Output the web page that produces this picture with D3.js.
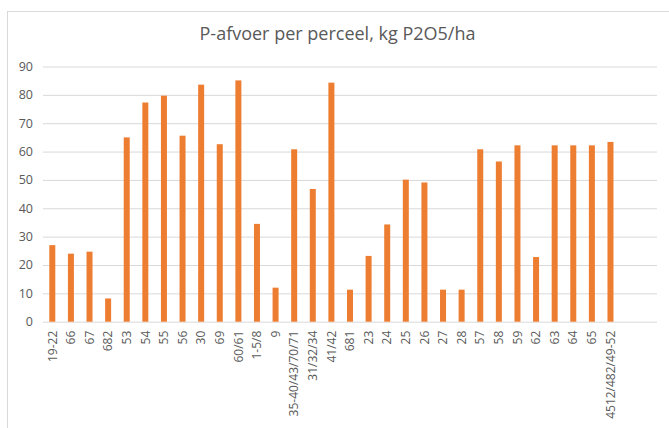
<!DOCTYPE html>
<html>
<head>
<meta charset="utf-8">
<script src="https://cdn.jsdelivr.net/npm/d3@7"></script>
<style>
  body { margin: 0; background: #fff; }
  text { font-family: "Open Sans", "Noto Sans", sans-serif; fill: #595959; }
</style>
</head>
<body>
<div id="chart"></div>
<script>
// percelen (x categories) and P-afvoer values
var categories = ["19-22", "66", "67", "682", "53", "54", "55", "56", "30", "69",
	"60/61", "1-5/8", "9", "35-40/43/70/71", "31/32/34", "41/42", "681", "23", "24", "25",
	"26", "27", "28", "57", "58", "59", "62", "63", "64", "65", "4512/482/49-52"];
var values = [27, 24, 24.7, 8.2, 65, 77.3, 79.7, 65.6, 83.6, 62.6,
	85.1, 34.5, 12, 60.8, 46.8, 84.3, 11.3, 23.2, 34.3, 50.1,
	49.1, 11.3, 11.3, 60.8, 56.5, 62.2, 22.8, 62.2, 62.2, 62.2, 63.4];
var yTicks = [0, 10, 20, 30, 40, 50, 60, 70, 80, 90];
var titleStr = "P-afvoer per perceel, kg P2O5/ha";

var W = 669, H = 428;
var margin = {top: 66.5, left: 43, right: 12, bottom: 106.3};
var plotW = W - margin.left - margin.right;
var plotH = H - margin.top - margin.bottom;
var emptySlots = 2; // Excel axis leaves two empty slots at the end
var nSlots = categories.length + emptySlots;
var barWidth = 6;

var svg = d3.select("#chart").append("svg")
	.attr("width", W)
	.attr("height", H);

// chart frame (partly cut off on the right/bottom)
svg.append("rect")
	.attr("x", 7.5).attr("y", 11.5)
	.attr("width", W + 20).attr("height", H + 20)
	.attr("fill", "none")
	.attr("stroke", "#d9d9d9");

svg.append("text")
	.attr("x", 337.5)
	.attr("y", 39.5)
	.attr("text-anchor", "middle")
	.attr("font-size", "18px")
	.text(titleStr);

var g = svg.append("g").attr("transform", "translate(" + margin.left + "," + margin.top + ")");

var x = d3.scaleBand()
	.domain(categories)
	.range([0, plotW * categories.length / nSlots])
	.padding(0);

var y = d3.scaleLinear()
	.domain([0, 90])
	.range([plotH, 0]);

// gridlines + y labels
g.append("g")
	.attr("class", "y-axis")
	.call(d3.axisLeft(y).tickValues(yTicks).tickSizeInner(-plotW).tickSizeOuter(0).tickPadding(10))
	.call(function(a) {
		a.select(".domain").remove();
		a.selectAll("line").attr("stroke", "#d9d9d9");
		a.selectAll("text").attr("font-size", "12.5px").attr("fill", "#595959");
	});

// bars
g.selectAll("rect.bars")
	.data(values)
	.enter()
	.append("rect")
		.attr("class", "bars")
		.attr("x", function(d, i) { return x(categories[i]) + x.bandwidth() / 2 - barWidth / 2; })
		.attr("y", function(d) { return y(d); })
		.attr("width", barWidth)
		.attr("height", function(d) { return plotH - y(d); })
		.style("fill", "#ed7d31");

// x labels
g.append("g")
	.attr("class", "x-axis")
	.attr("transform", "translate(0," + plotH + ")")
	.call(d3.axisBottom(x).tickSize(0).tickPadding(0))
	.call(function(a) {
		a.select(".domain").remove();
		a.selectAll("text")
			.attr("font-size", "12px")
			.attr("fill", "#595959")
			.attr("text-anchor", "end")
			.attr("transform", "rotate(-90)")
			.attr("x", -9)
			.attr("y", 0)
			.attr("dy", "0.35em");
	});
</script>
</body>
</html>
